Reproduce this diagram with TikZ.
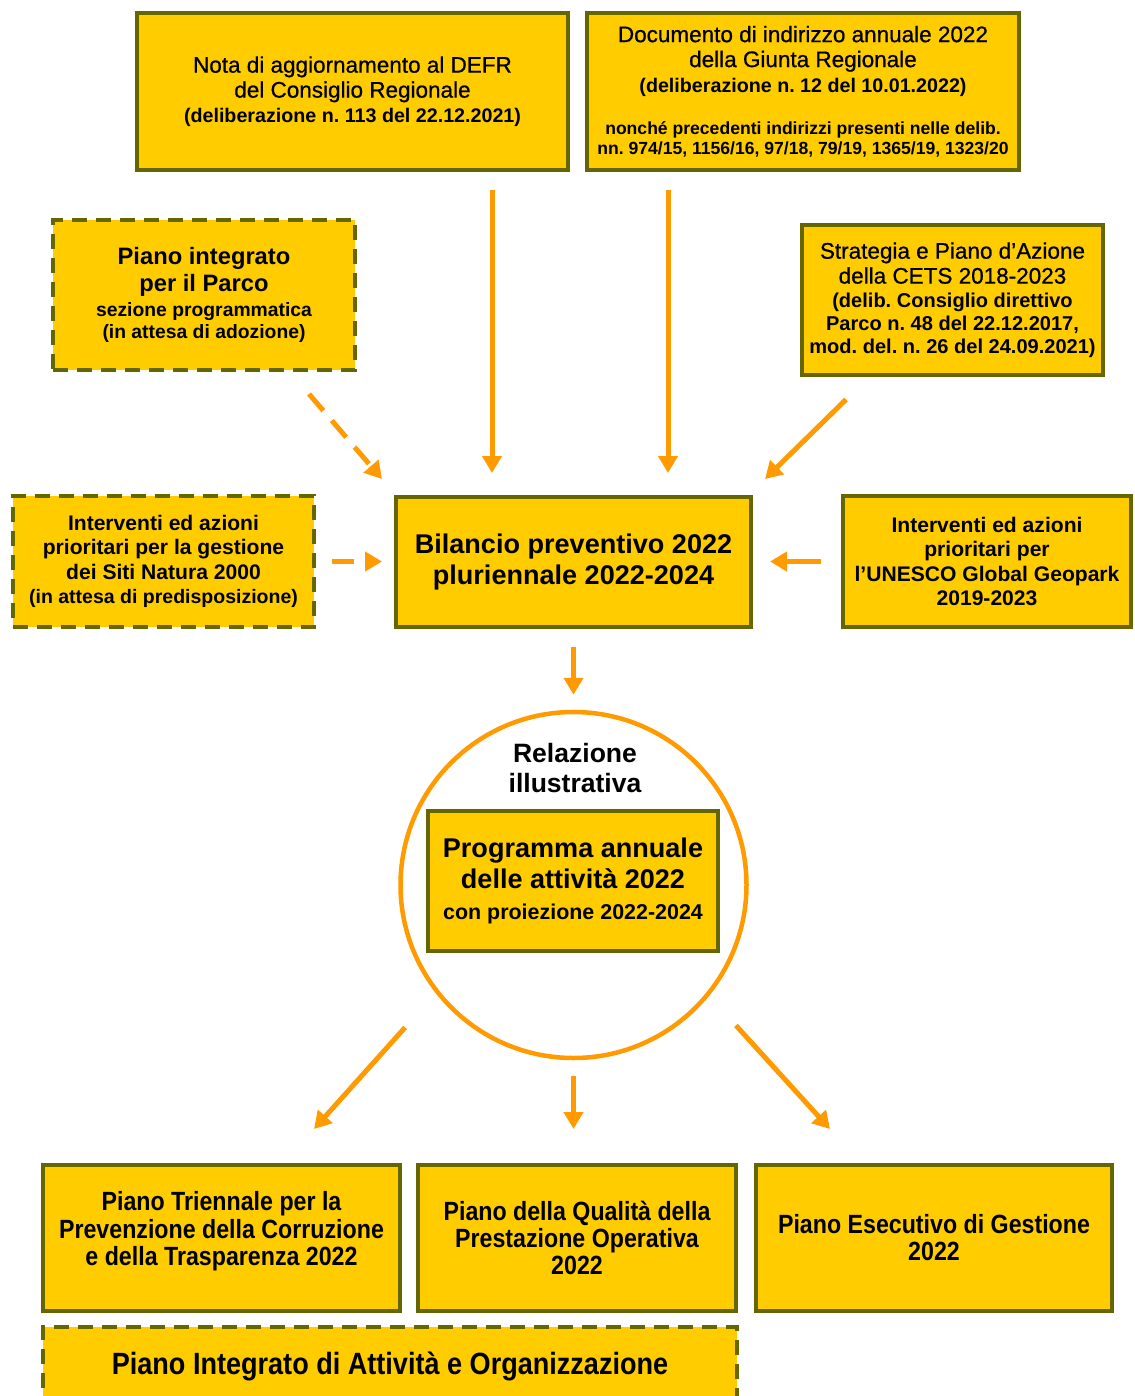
\documentclass[tikz,border=0pt]{standalone}
\usepackage{fontspec}
\setmainfont{Liberation Sans}
\newfontfamily\narrowfont{Liberation Sans}[FakeStretch=0.88]
\newfontfamily\medfont{Liberation Sans}[FakeBold=0.7]
\usetikzlibrary{arrows.meta,positioning}
\newcommand\fsz[2]{\fontsize{#1}{#2}\selectfont}
\definecolor{gold}{HTML}{FFCC00}
\definecolor{rim}{HTML}{666600}
\definecolor{arrowc}{HTML}{FF9A00}

\begin{document}
\frenchspacing
\begin{tikzpicture}[
box/.style args={#1/#2}{draw=rim, fill=gold, line width=0.08cm,
              align=center, inner sep=0pt,
              minimum width=#1, minimum height=#2,
              font=\medfont\fsz{12.8}{14.2}},
dbox/.style args={#1/#2}{box={#1/#2},
              dash pattern=on 0.3cm off 0.18cm},
arr/.style = {draw=arrowc, line width=0.1cm,
              -{Triangle[width=0.38cm,length=0.34cm]}},
darr/.style = {arr, dash pattern=on 0.44cm off 0.26cm},
outbox/.style args={#1/#2}{box={#1/#2},
              font=\narrowfont\bfseries\fsz{15}{15.4}}
                ]
\useasboundingbox (0,0) rectangle (22.68,-27.92);

%% inputs
\node (in1) [box={8.62cm/3.14cm}] at (7.05,-1.83)
  {Nota di aggiornamento al DEFR\\ del Consiglio Regionale\\
   {\normalfont\bfseries\fsz{11.2}{13}(deliberazione n. 113 del 22.12.2021)}};
\node (in2) [box={8.64cm/3.14cm}] at (16.06,-1.83)
  {Documento di indirizzo annuale 2022\\ della Giunta Regionale\\
   {\normalfont\bfseries\fsz{11.2}{13}(deliberazione n. 12 del 10.01.2022)}\\[0.35cm]
   {\normalfont\bfseries\fsz{10}{11.5}nonché precedenti indirizzi presenti nelle delib.}\\[-0.1cm]
   {\normalfont\bfseries\fsz{10}{11.5}nn. 974/15, 1156/16, 97/18, 79/19, 1365/19, 1323/20}};
\node (in3) [dbox={6.04cm/3.0cm}, font=\bfseries\fsz{13.5}{15.4}] at (4.08,-5.9)
  {Piano integrato\\ per il Parco\\[-0.04cm]
   {\fsz{11}{12.5}sezione programmatica}\\[-0.1cm]
   {\fsz{11}{12.5}(in attesa di adozione)}};
\node (in4) [box={6.02cm/2.98cm}] at (19.05,-6.0)
  {Strategia e Piano d’Azione\\ della CETS 2018-2023\\[-0.02cm]
   {\normalfont\bfseries\fsz{11.4}{13}(delib. Consiglio direttivo}\\[-0.04cm]
   {\normalfont\bfseries\fsz{11.4}{13}Parco n. 48 del 22.12.2017,}\\[-0.04cm]
   {\normalfont\bfseries\fsz{11.4}{13}mod. del. n. 26 del 24.09.2021)}};
\node (in5) [dbox={6.02cm/2.62cm}, font=\bfseries\fsz{12}{13.8}] at (3.27,-11.23)
  {Interventi ed azioni\\ prioritari per la gestione\\ dei Siti Natura 2000\\
   {\fsz{11.1}{13}(in attesa di predisposizione)}};
\node (in6) [box={5.76cm/2.62cm}, font=\bfseries\fsz{12}{13.8}] at (19.74,-11.23)
  {Interventi ed azioni\\ prioritari per\\ l’UNESCO Global Geopark\\ 2019-2023};

%% bilancio
\node (bil) [box={7.1cm/2.6cm}, font=\bfseries\fsz{15.4}{17.6}] at (11.47,-11.24)
  {Bilancio preventivo 2022\\ pluriennale 2022-2024};

%% relazione
\node (circ) [circle, draw=arrowc, line width=0.09cm,
              minimum size=6.92cm] at (11.47,-17.7) {};
\node (rel) [align=center, font=\bfseries\fsz{15.1}{17.6}] at (11.5,-15.36)
  {Relazione\\ illustrativa};
\node (prog) [box={5.8cm/2.8cm}, font=\bfseries\fsz{15.4}{17.6}] at (11.46,-17.62)
  {Programma annuale\\ delle attività 2022\\
   {\fsz{12.2}{13.5}con proiezione 2022-2024}};

%% outputs
\node (out1) [outbox={7.14cm/2.92cm}] at (4.43,-24.76)
  {Piano Triennale per la\\ Prevenzione della Corruzione\\ e della Trasparenza 2022\\[-0.16cm]};
\node (out2) [outbox={6.36cm/2.92cm}] at (11.54,-24.76)
  {Piano della Qualità della\\ Prestazione Operativa\\ 2022};
\node (out3) [outbox={7.12cm/2.92cm}] at (18.68,-24.76)
  {Piano Esecutivo di Gestione\\ 2022};
\node (piao) [outbox={13.88cm/1.56cm}, dash pattern=on 0.3cm off 0.18cm,
              font=\narrowfont\bfseries\fsz{17.5}{19}] at (7.8,-27.32)
  {Piano Integrato di Attività e Organizzazione};

%% connectors
\draw [arr, shorten <=0.36cm, shorten >=0.44cm]
  ([xshift=2.79cm]in1.south) -- ([xshift=2.79cm]in1.south |- bil.north);
\draw [arr, shorten <=0.36cm, shorten >=0.44cm]
  ([xshift=-2.7cm]in2.south) -- ([xshift=-2.7cm]in2.south |- bil.north);
\draw [darr] ([xshift=-0.96cm,yshift=-0.44cm]in3.south east)
  -- ([xshift=-0.24cm,yshift=0.32cm]bil.north west);
\draw [arr] ([xshift=0.92cm,yshift=-0.46cm]in4.south west)
  -- ([xshift=0.24cm,yshift=0.32cm]bil.north east);
\draw [darr, shorten <=0.32cm, shorten >=0.24cm] (in5.east) -- (in5.east -| bil.west);
\draw [arr, shorten <=0.4cm, shorten >=0.34cm] (in6.west) -- (in6.west -| bil.east);
\draw [arr, shorten <=0.36cm, shorten >=0.3cm] (bil.south) -- (bil.south |- circ.north);
\draw [arr] ([xshift=-0.89cm,yshift=-0.37cm]circ.south west)
  -- ([xshift=1.85cm,yshift=0.68cm]out1.north);
\draw [arr, shorten <=0.32cm, shorten >=0.68cm]
  (circ.south) -- (circ.south |- out2.north);
\draw [arr] ([xshift=0.77cm,yshift=-0.33cm]circ.south east)
  -- ([xshift=-2.08cm,yshift=0.68cm]out3.north);
%%
\end{tikzpicture}
\end{document}
